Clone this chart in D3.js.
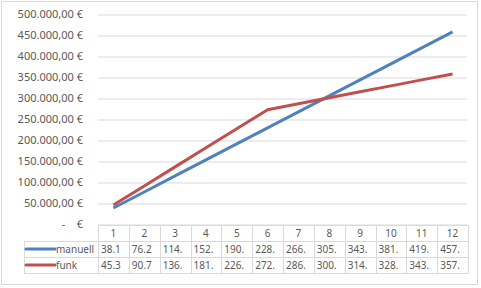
<!DOCTYPE html>
<html>
<head>
<meta charset="utf-8">
<script src="https://cdn.jsdelivr.net/npm/d3@7"></script>
<style>
  body { margin: 0; background: #fff; }
  svg { display: block; font-family: "Noto Sans", sans-serif; }
  .tick text { white-space: pre; }
</style>
</head>
<body>
<svg id="chart" width="481" height="288"></svg>
<script>
(function () {

    var months = ["1", "2", "3", "4", "5", "6", "7", "8", "9", "10", "11", "12"],
        manuell = [38130, 76260, 114390, 152520, 190650, 228780, 266910, 305040, 343170, 381300, 419430, 457560],
        funk = [45350, 90700, 136050, 181400, 226750, 272100, 286300, 300500, 314700, 328900, 343100, 357300],
        yTicks = [0, 50000, 100000, 150000, 200000, 250000, 300000, 350000, 400000, 450000, 500000];

    var series = [
        { name: "manuell", values: manuell, color: "#4f81bd" },
        { name: "funk", values: funk, color: "#c0504d" }
    ];

    var svg = d3.select("#chart"),
        grid = "#d9d9d9",
        textColor = "#595959";

    var x = d3.scaleBand().domain(months).range([98, 468]),
        y = d3.scaleLinear().domain([0, 500000]).range([224, 14]);

    // euro format, german style
    var loc = d3.formatLocale({ decimal: ",", thousands: ".", grouping: [3], currency: ["", " €"] }),
        euro = loc.format("$,.2f");

    function tickLabel(v) {
        return v === 0 ? "-    €" : euro(v);
    }

    // outer frame
    svg.append("rect")
        .attr("x", 1.5).attr("y", 1.5)
        .attr("width", 476).attr("height", 283)
        .attr("fill", "none")
        .attr("stroke", grid);

    // y axis with gridlines
    var yAxis = d3.axisLeft(y)
        .tickValues(yTicks)
        .tickSize(-369)
        .tickPadding(15)
        .tickFormat(tickLabel);

    svg.append("g")
        .attr("transform", "translate(98,0)")
        .call(yAxis)
        .call(function (g) {
            g.select(".domain").remove();
            g.selectAll(".tick line").attr("stroke", grid).attr("transform", "translate(0,0.5)");
            g.selectAll(".tick text")
                .attr("fill", textColor)
                .attr("font-size", 11)
                .attr("font-family", "'Noto Sans', sans-serif");
        });

    // lines
    var line = d3.line()
        .x(function (d, i) { return x(months[i]) + x.bandwidth() / 2; })
        .y(function (d) { return y(d); });

    svg.selectAll("path.series")
        .data(series)
        .enter().append("path")
            .attr("class", "series")
            .attr("fill", "none")
            .attr("stroke", function (d) { return d.color; })
            .attr("stroke-width", 3)
            .attr("stroke-linejoin", "round")
            .attr("d", function (d) { return line(d.values); });

    // data table
    var rowTop = [225, 241, 257],
        rowH = 16,
        tableLeft = 24,
        tableRight = 468,
        tbl = svg.append("g").attr("class", "table");

    // horizontal rules
    tbl.append("line")
        .attr("x1", 98).attr("x2", tableRight)
        .attr("y1", rowTop[0] + 0.5).attr("y2", rowTop[0] + 0.5);
    [rowTop[1], rowTop[2], rowTop[2] + rowH].forEach(function (yy) {
        tbl.append("line")
            .attr("x1", tableLeft).attr("x2", tableRight)
            .attr("y1", yy + 0.5).attr("y2", yy + 0.5);
    });

    // vertical rules
    tbl.append("line")
        .attr("x1", tableLeft + 0.5).attr("x2", tableLeft + 0.5)
        .attr("y1", rowTop[1]).attr("y2", rowTop[2] + rowH);
    months.forEach(function (m) {
        var xx = Math.round(x(m)) + 0.5;
        tbl.append("line")
            .attr("x1", xx).attr("x2", xx)
            .attr("y1", rowTop[0]).attr("y2", rowTop[2] + rowH);
    });
    tbl.append("line")
        .attr("x1", tableRight + 0.5).attr("x2", tableRight + 0.5)
        .attr("y1", rowTop[0]).attr("y2", rowTop[2] + rowH);

    tbl.selectAll("line").attr("stroke", grid);

    // header
    tbl.selectAll("text.head")
        .data(months)
        .enter().append("text")
            .attr("class", "head")
            .attr("x", function (d) { return x(d) + x.bandwidth() / 2; })
            .attr("y", rowTop[0] + 12)
            .attr("text-anchor", "middle")
            .attr("font-size", 10)
            .attr("fill", textColor)
            .text(function (d) { return d; });

    // rows
    series.forEach(function (s, r) {
        var top = rowTop[r + 1];

        tbl.append("line")
            .attr("x1", 26).attr("x2", 55)
            .attr("y1", top + 8).attr("y2", top + 8)
            .attr("stroke", s.color)
            .attr("stroke-width", 3)
            .attr("stroke-linecap", "round");

        tbl.append("text")
            .attr("x", 56)
            .attr("y", top + 12)
            .attr("font-size", 10)
            .attr("fill", textColor)
            .text(s.name);

        // cell values are clipped by the narrow column
        tbl.selectAll("text.v" + r)
            .data(s.values)
            .enter().append("text")
                .attr("class", "v" + r)
                .attr("x", function (d, i) { return x(months[i]) + 3; })
                .attr("y", top + 12)
                .attr("font-size", 10)
                .attr("fill", textColor)
                .text(function (d) { return euro(d).slice(0, 4); });
    });

}());
</script>
</body>
</html>
